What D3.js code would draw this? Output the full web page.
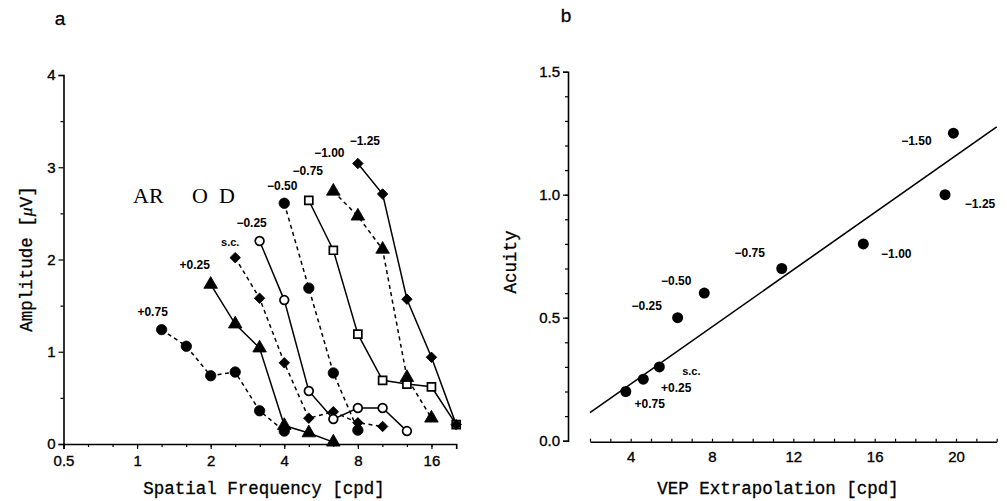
<!DOCTYPE html>
<html>
<head>
<meta charset="utf-8">
<script src="https://cdn.jsdelivr.net/npm/d3@7"></script>
<style>
  html, body { margin: 0; padding: 0; background: #fff; }
  svg { display: block; }
  .tick text { font-family: "Liberation Sans", Arial, sans-serif; font-size: 15px; fill: #000; stroke: #000; stroke-width: 0.35px; }
  .lbl { font-family: "Liberation Sans", Arial, sans-serif; font-size: 12px; font-weight: bold; fill: #000; }
  .title { font-family: "Liberation Mono", "Courier New", monospace; font-size: 17.5px; fill: #000; stroke: #000; stroke-width: 0.3px; }
  .panel { font-family: "Liberation Sans", Arial, sans-serif; font-size: 19px; fill: #000; stroke: #000; stroke-width: 0.3px; }
</style>
</head>
<body>
<svg id="chart" width="1007" height="501"></svg>
<script>
// ---------------- Panel a data ----------------
const seriesLabelsA = ["+0.75", "+0.25", "s.c.", "\u22120.25", "\u22120.50", "\u22120.75", "\u22121.00", "\u22121.25"];
const p075F = [1.26, 1.59, 2, 2.52, 3.17, 4];
const p075A = [1.24, 1.06, 0.74, 0.78, 0.36, 0.14];
const p025F = [2, 2.52, 3.17, 4, 5.04, 6.35];
const p025A = [1.73, 1.30, 1.04, 0.20, 0.12, 0.02];
const scF   = [2.52, 3.17, 4, 5.04, 6.35, 8, 10.1];
const scA   = [2.02, 1.58, 0.88, 0.28, 0.35, 0.23, 0.19];
const m025F = [3.17, 4, 5.04, 6.35, 8, 10.1, 12.7];
const m025A = [2.20, 1.56, 0.575, 0.27, 0.39, 0.39, 0.14];
const m050F = [4, 5.04, 6.35, 8];
const m050A = [2.61, 1.69, 0.77, 0.15];
const m075F = [5.04, 6.35, 8, 10.1, 12.7, 16, 20.2];
const m075A = [2.64, 2.10, 1.19, 0.69, 0.65, 0.62, 0.21];
const m100F = [6.35, 8, 10.1, 12.7, 16];
const m100A = [2.74, 2.47, 2.11, 0.72, 0.28];
const m125F = [8, 10.1, 12.7, 16, 20.2];
const m125A = [3.04, 2.71, 1.57, 0.94, 0.21];
const xTickLabelsA = [0.5, 1, 2, 4, 8, 16];
const yTickLabelsA = [0, 1, 2, 3, 4];

// ---------------- Panel b data ----------------
const seriesLabelsB = ["+0.75", "+0.25", "s.c.", "\u22120.25", "\u22120.50", "\u22120.75", "\u22121.00", "\u22121.25", "\u22121.50"];
const vepX   = [3.76, 4.62, 5.41, 6.31, 7.62, 11.43, 15.44, 19.46, 19.87];
const acuity = [0.20, 0.25, 0.30, 0.50, 0.60, 0.70, 0.80, 1.00, 1.25];
const fitX = [2, 22];
const fitY = [0.114, 1.276];
const xTickLabelsB = [4, 8, 12, 16, 20];
const yTickLabelsB = [0.0, 0.5, 1.0, 1.5];

const svg = d3.select("#chart");
svg.append("rect").attr("width", 1007).attr("height", 501).attr("fill", "#fff");

// ================= PANEL A =================
const xA = d3.scaleLog().base(2).domain([0.5, 20.2]).range([63.5, 456.2]);
const yA = d3.scaleLinear().domain([0, 4]).range([444, 75]);
const gA = svg.append("g");

// third-octave minor ticks
const minorXA = d3.range(0, 16).map(k => 0.5 * Math.pow(2, k / 3)).filter(v => v <= 20.3);
gA.append("g").attr("transform", "translate(0,444)")
  .call(d3.axisBottom(xA).tickValues(minorXA).tickSize(3).tickFormat(""))
  .call(g => g.select(".domain").remove());
gA.append("g").attr("transform", "translate(0,444)")
  .call(d3.axisBottom(xA).tickValues(xTickLabelsA).tickSize(5).tickPadding(6).tickFormat(d3.format("")))
  .call(g => g.select(".domain").attr("stroke-width", 1.6));
gA.append("g").attr("transform", "translate(63.5,0)")
  .call(d3.axisLeft(yA).tickValues(d3.range(0.5, 4, 1)).tickSize(3).tickFormat(""))
  .call(g => g.select(".domain").remove());
gA.append("g").attr("transform", "translate(63.5,0)")
  .call(d3.axisLeft(yA).tickValues(yTickLabelsA).tickSize(5).tickPadding(3).tickFormat(d3.format("d")))
  .call(g => g.select(".domain").attr("stroke-width", 1.6));

const seriesA = [
  {F: p075F, A: p075A, dash: true,  mark: "circle"},
  {F: p025F, A: p025A, dash: false, mark: "triangle"},
  {F: scF,   A: scA,   dash: true,  mark: "diamond"},
  {F: m025F, A: m025A, dash: false, mark: "opencircle"},
  {F: m050F, A: m050A, dash: true,  mark: "circle"},
  {F: m075F, A: m075A, dash: false, mark: "opensquare"},
  {F: m100F, A: m100A, dash: true,  mark: "triangle"},
  {F: m125F, A: m125A, dash: false, mark: "diamond"}
];
// label offsets (px) relative to first point of each series
const labelOffA = [[-9,-18],[-16,-19],[-5,-16],[-8,-18],[-2,-17],[-1,-29],[-4,-38],[7,-23]];

const line = d3.line().x(d => xA(d[0])).y(d => yA(d[1]));
const symbols = {
  circle: d3.symbol().type(d3.symbolCircle).size(85),
  opencircle: d3.symbol().type(d3.symbolCircle).size(60),
  triangle: d3.symbol().type(d3.symbolTriangle).size(80),
  diamond: d3.symbol().type(d3.symbolSquare).size(55),
  opensquare: d3.symbol().type(d3.symbolSquare).size(64)
};

seriesA.forEach((s, i) => {
  const pts = s.F.map((f, j) => [f, s.A[j]]);
  gA.append("path").attr("d", line(pts)).attr("fill", "none").attr("stroke", "#000")
    .attr("stroke-width", 1.5).attr("stroke-dasharray", s.dash ? "4,3.5" : null);
});
seriesA.forEach((s, i) => {
  const pts = s.F.map((f, j) => [f, s.A[j]]);
  const open = s.mark.startsWith("open");
  const rot = s.mark === "diamond" ? " rotate(45)" : "";
  gA.selectAll(null).data(pts).enter().append("path")
    .attr("d", symbols[s.mark]())
    .attr("transform", d => `translate(${xA(d[0])},${yA(d[1])})${rot}`)
    .attr("fill", open ? "#fff" : "#000").attr("stroke", "#000").attr("stroke-width", open ? 1.7 : 0.8);
  gA.append("text").attr("class", "lbl")
    .attr("x", xA(s.F[0]) + labelOffA[i][0]).attr("y", yA(s.A[0]) + labelOffA[i][1])
    .attr("text-anchor", "middle").attr("dominant-baseline", "central")
    .style("font-size", s.F === scF ? "11px" : null)
    .text(seriesLabelsA[i]);
});

gA.append("text").attr("x", 133).attr("y", 203)
  .style("font-family", "'Liberation Serif', 'Times New Roman', serif").style("font-size", "22px")
  .text("AR");
gA.append("text").attr("x", 192).attr("y", 203)
  .style("font-family", "'Liberation Serif', 'Times New Roman', serif").style("font-size", "22px")
  .attr("xml:space", "preserve").style("white-space", "pre")
  .text("O  D");

gA.append("text").attr("class", "title").attr("x", 264).attr("y", 494).attr("text-anchor", "middle")
  .text("Spatial Frequency [cpd]");
const ytA = gA.append("text").attr("class", "title").attr("text-anchor", "middle")
  .attr("transform", "translate(32,259) rotate(-90)");
ytA.append("tspan").text("Amplitude [");
ytA.append("tspan").style("font-style", "italic").style("font-family", "'Liberation Serif', serif").text("\u03bc");
ytA.append("tspan").text("V]");
gA.append("text").attr("class", "panel").attr("x", 60).attr("y", 25).attr("text-anchor", "middle").text("a");

// ================= PANEL B =================
const xB = d3.scaleLinear().domain([2, 22]).range([590, 996.7]);
const yB = d3.scaleLinear().domain([0, 1.5]).range([440.7, 71.7]);
const gB = svg.append("g");

gB.append("g").attr("transform", "translate(0,441.7)")
  .call(d3.axisTop(xB).tickValues(d3.range(2, 23, 1)).tickSize(3).tickFormat(""))
  .call(g => g.select(".domain").remove());
gB.append("g").attr("transform", "translate(0,441.7)")
  .call(d3.axisBottom(xB).tickValues(xTickLabelsB).tickSize(0).tickPadding(10).tickFormat(d3.format("d")))
  .call(g => g.select(".domain").attr("stroke-width", 1.6));
gB.append("g").attr("transform", "translate(568,0)")
  .call(d3.axisLeft(yB).tickValues(d3.range(0.1, 1.5, 0.1)).tickSize(3).tickFormat(""))
  .call(g => g.select(".domain").remove());
gB.append("g").attr("transform", "translate(568,0)")
  .call(d3.axisLeft(yB).tickValues(yTickLabelsB).tickSize(5).tickPadding(3).tickFormat(d3.format(".1f")))
  .call(g => g.select(".domain").attr("stroke-width", 1.6));

gB.append("line")
  .attr("x1", xB(fitX[0])).attr("y1", yB(fitY[0]))
  .attr("x2", xB(fitX[1])).attr("y2", yB(fitY[1]))
  .attr("stroke", "#000").attr("stroke-width", 1.6);

const ptsB = vepX.map((v, i) => [v, acuity[i]]);
gB.selectAll(null).data(ptsB).enter().append("circle")
  .attr("cx", d => xB(d[0])).attr("cy", d => yB(d[1])).attr("r", 5.5).attr("fill", "#000");

const labelOffB = [[24,12],[33,9],[32,4],[-31,-12],[-28,-12],[-32,-16],[33,10],[35,9],[-37,8]];
ptsB.forEach((d, i) => {
  gB.append("text").attr("class", "lbl")
    .attr("x", xB(d[0]) + labelOffB[i][0]).attr("y", yB(d[1]) + labelOffB[i][1])
    .attr("text-anchor", "middle").attr("dominant-baseline", "central")
    .style("font-size", seriesLabelsB[i] === "s.c." ? "11px" : null)
    .text(seriesLabelsB[i]);
});

gB.append("text").attr("class", "title").attr("x", 778).attr("y", 494).attr("text-anchor", "middle")
  .text("VEP Extrapolation [cpd]");
gB.append("text").attr("class", "title").attr("text-anchor", "middle")
  .attr("transform", "translate(516,262) rotate(-90)").text("Acuity");
gB.append("text").attr("class", "panel").attr("x", 566).attr("y", 22).attr("text-anchor", "middle").text("b");

svg.selectAll(".tick line").attr("stroke", "#000").attr("stroke-width", 1.2);
svg.selectAll(".domain").attr("stroke", "#000");
</script>
</body>
</html>
